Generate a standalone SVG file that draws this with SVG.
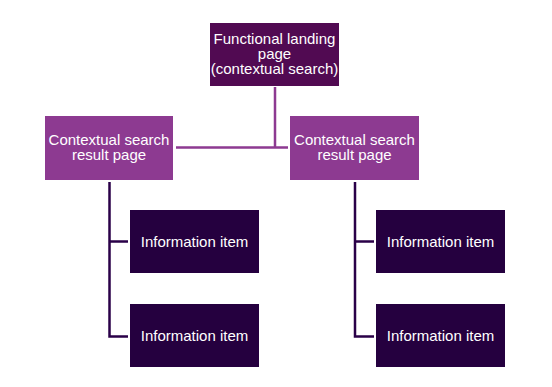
<svg xmlns="http://www.w3.org/2000/svg" width="552" height="387" viewBox="0 0 552 387">
  <style>
    .top { fill: #510A52; }
    .mid { fill: #8D3A91; }
    .item { fill: #25003F; }
    text { font-family: "Liberation Sans", Arial, sans-serif; font-size: 15px; fill: #FFFFFF; text-anchor: middle; }
    .up { stroke: #8D3A91; stroke-width: 2.5; fill: none; }
    .down { stroke: #2A0048; stroke-width: 2.5; fill: none; }
  </style>
  <rect width="552" height="387" fill="#FFFFFF"/>
  <g id="connectors">
    <path class="up" d="M275 87 V147.5 M176 147.5 H288"/>
    <path class="down" d="M109.5 182 V336.5 H128 M109.5 241.5 H128"/>
    <path class="down" d="M355 182 V336.5 H374 M355 241.5 H374"/>
  </g>
  <g id="node-landing">
    <rect class="top" x="210" y="23" width="129" height="63"/>
    <text x="274.5" y="43.5"><tspan x="274.5">Functional landing</tspan><tspan x="274.5" dy="15">page</tspan><tspan x="274.5" dy="15">(contextual search)</tspan></text>
  </g>
  <g id="node-result-left">
    <rect class="mid" x="45" y="116" width="128" height="64"/>
    <text x="109" y="145"><tspan x="109">Contextual search</tspan><tspan x="109" dy="15">result page</tspan></text>
  </g>
  <g id="node-result-right">
    <rect class="mid" x="290" y="116" width="129" height="64"/>
    <text x="354.5" y="145"><tspan x="354.5">Contextual search</tspan><tspan x="354.5" dy="15">result page</tspan></text>
  </g>
  <g id="node-item-l1">
    <rect class="item" x="130" y="210" width="129" height="63"/>
    <text x="194.5" y="247">Information item</text>
  </g>
  <g id="node-item-l2">
    <rect class="item" x="130" y="304" width="129" height="63"/>
    <text x="194.5" y="341">Information item</text>
  </g>
  <g id="node-item-r1">
    <rect class="item" x="376" y="210" width="129" height="63"/>
    <text x="440.5" y="247">Information item</text>
  </g>
  <g id="node-item-r2">
    <rect class="item" x="376" y="304" width="129" height="63"/>
    <text x="440.5" y="341">Information item</text>
  </g>
</svg>
